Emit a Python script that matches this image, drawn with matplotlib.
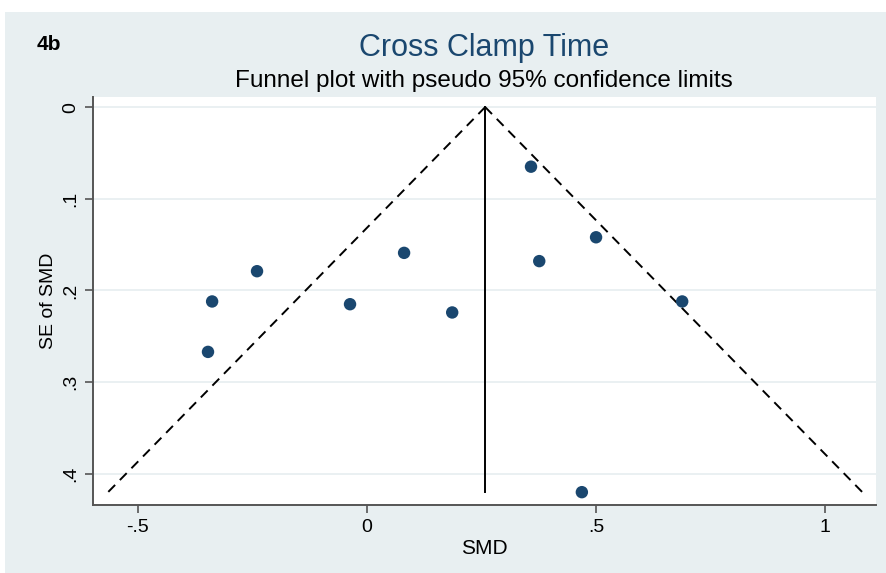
import numpy as np
import matplotlib
matplotlib.use("Agg")
import matplotlib.pyplot as plt
from matplotlib.patches import Rectangle

plt.rcParams['font.family'] = ['Liberation Sans', 'DejaVu Sans']

# Study estimates: standardised mean difference and its standard error
smd = [0.358, 0.500, 0.376, 0.688, 0.081, 0.186, -0.037, -0.240, -0.338, -0.347, 0.469]
se_smd = [0.065, 0.142, 0.168, 0.212, 0.159, 0.224, 0.215, 0.179, 0.212, 0.267, 0.420]

# Pooled estimate and extent of the pseudo confidence limits
pooled = 0.258
se_max = 0.420

x_ticks = [-0.5, 0, 0.5, 1]
x_tick_labels = ["-.5", "0", ".5", "1"]
y_ticks = [0, 0.1, 0.2, 0.3, 0.4]
y_tick_labels = ["0", ".1", ".2", ".3", ".4"]

navy = "#1a476f"
bg = "#e8eff1"

fig = plt.figure(figsize=(8.87, 5.73), dpi=100)
fig.patch.set_facecolor("white")
fig.patches.append(Rectangle((5 / 887, 0), 1, (573 - 12) / 573,
                             transform=fig.transFigure, facecolor=bg,
                             edgecolor="none", zorder=-10))

ax = fig.add_axes([93 / 887, 1 - 505 / 573, (876 - 93) / 887, (505 - 97) / 573])
ax.set_facecolor("white")
ax.set_xlim(-0.598, 1.111)
ax.set_ylim(0.434, -0.011)

# Grid lines on the SE axis
for yv in y_ticks:
    ax.axhline(yv, color="#e6eef0", lw=1.2, zorder=0)

# Funnel: 95% pseudo-confidence limits and pooled estimate
se_line = np.array([0.0, se_max])
ax.plot(pooled - 1.96 * se_line, se_line, color="black", lw=1.4,
        linestyle=(0, (5, 3.5)), zorder=2)
ax.plot(pooled + 1.96 * se_line, se_line, color="black", lw=1.4,
        linestyle=(0, (5, 3.5)), zorder=2)
ax.plot([pooled, pooled], [0, se_max], color="black", lw=1.4, zorder=2)

ax.scatter(smd, se_smd, s=80, color=navy, edgecolors="none", zorder=3)

for side in ["top", "right"]:
    ax.spines[side].set_visible(False)
for side in ["left", "bottom"]:
    ax.spines[side].set_color("#555555")
    ax.spines[side].set_linewidth(1.4)

ax.set_xticks(x_ticks)
ax.set_xticklabels(x_tick_labels, fontsize=14)
ax.set_yticks(y_ticks)
ax.set_yticklabels(y_tick_labels, fontsize=14, rotation=90, va="center")
ax.tick_params(axis="both", direction="out", length=6, width=1.2,
               color="#555555", pad=4)

ax.set_xlabel("SMD", fontsize=15, labelpad=2)
ax.set_ylabel("SE of SMD", fontsize=14, labelpad=4)

fig.text(484 / 887, 1 - 48 / 573, "Cross Clamp Time", ha="center",
         va="center", fontsize=22, color=navy)
fig.text(484 / 887, 1 - 81 / 573,
         "Funnel plot with pseudo 95% confidence limits", ha="center",
         va="center", fontsize=17.5, color="black")
fig.text(37 / 887, 1 - 44 / 573, "4b", ha="left", va="center",
         fontsize=15, fontweight="bold", color="black")

fig.savefig("out.png", dpi=100)
